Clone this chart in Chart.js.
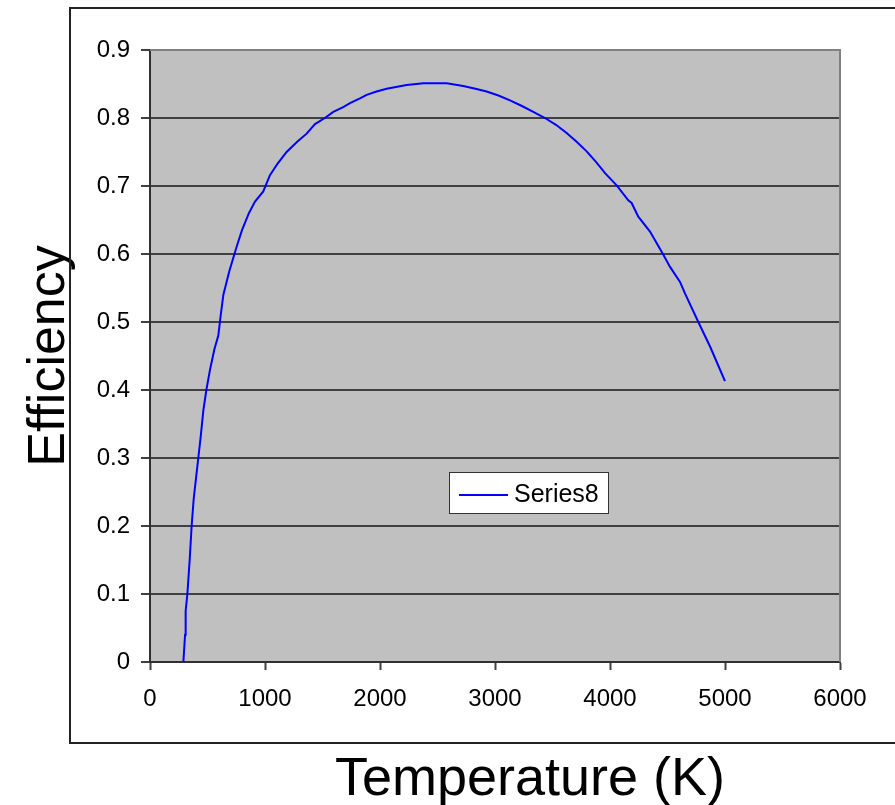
<!DOCTYPE html>
<html lang="en">
<head>
    <meta charset="UTF-8">
    <title>Efficiency vs Temperature</title>
    <script src="https://cdn.jsdelivr.net/npm/chart.js"></script>
    <style>
        html, body {
            margin: 0;
            padding: 0;
            background: #ffffff;
        }
        #wrap {
            width: 895px;
            height: 805px;
        }
    </style>
</head>
<body>

    <div id="wrap"><canvas id="effChart"></canvas></div>

    <script>
        // Temperature (K) and efficiency
        const temperatures = [
            290, 305, 310, 325, 345, 362, 380, 400, 420, 440,
            464, 490, 522, 560, 594, 615, 638, 690, 754, 800,
            860, 913, 985, 1043, 1110, 1188, 1280, 1362, 1435, 1520,
            1594, 1680, 1739, 1826, 1884, 1970, 2058, 2150, 2232, 2377,
            2580, 2724, 2830, 2927, 3030, 3130, 3230, 3333, 3435, 3530,
            3623, 3710, 3797, 3880, 3957, 4058, 4159, 4188, 4246, 4348,
            4464, 4522, 4609, 4652, 4768, 4870, 5000
        ];
        const efficiency = [
            0, 0.04, 0.075, 0.10, 0.15, 0.20, 0.24, 0.27, 0.30, 0.33,
            0.37, 0.40, 0.43, 0.46, 0.48, 0.51, 0.54, 0.575, 0.611, 0.635,
            0.66, 0.677, 0.692, 0.716, 0.733, 0.75, 0.765, 0.777, 0.791, 0.80,
            0.809, 0.816, 0.822, 0.829, 0.834, 0.839, 0.843, 0.846, 0.8485, 0.851,
            0.851, 0.847, 0.843, 0.839, 0.833, 0.826, 0.818, 0.809, 0.80, 0.79,
            0.778, 0.765, 0.751, 0.735, 0.719, 0.701, 0.679, 0.675, 0.655, 0.633,
            0.599, 0.581, 0.559, 0.542, 0.50, 0.464, 0.413
        ];
        const seriesName = "Series8";
        const xTitle = "Temperature (K)";
        const yTitle = "Efficiency";

        const FONT = "Arial, 'Liberation Sans', sans-serif";

        // grey plot area, outer frame, x title and the little legend box
        const excelLook = {
            id: "excelLook",
            beforeDraw(chart) {
                const { ctx, chartArea: a } = chart;
                ctx.save();
                ctx.fillStyle = "#C0C0C0";
                ctx.fillRect(a.left, a.top, a.right - a.left, a.bottom - a.top);
                ctx.restore();
            },
            afterDraw(chart) {
                const { ctx, chartArea: a } = chart;
                ctx.save();

                // plot area border (top / right)
                ctx.strokeStyle = "#808080";
                ctx.lineWidth = 2;
                ctx.beginPath();
                ctx.moveTo(a.left, a.top);
                ctx.lineTo(a.right, a.top);
                ctx.lineTo(a.right, a.bottom);
                ctx.stroke();

                // outer chart frame
                ctx.strokeStyle = "#222222";
                ctx.lineWidth = 2;
                ctx.strokeRect(70, 8, 900, 735);

                // x axis title
                ctx.fillStyle = "#000000";
                ctx.font = "54px " + FONT;
                ctx.textAlign = "center";
                ctx.textBaseline = "alphabetic";
                ctx.fillText(xTitle, 530, 795);

                // legend
                const ds = chart.data.datasets[0];
                ctx.fillStyle = "#ffffff";
                ctx.fillRect(449, 472, 159, 41);
                ctx.strokeStyle = "#333333";
                ctx.lineWidth = 1;
                ctx.strokeRect(449.5, 472.5, 159, 41);
                ctx.strokeStyle = ds.borderColor;
                ctx.lineWidth = 2;
                ctx.beginPath();
                ctx.moveTo(459, 495);
                ctx.lineTo(508, 495);
                ctx.stroke();
                ctx.fillStyle = "#000000";
                ctx.font = "25px " + FONT;
                ctx.textAlign = "left";
                ctx.fillText(ds.label, 514, 502);

                ctx.restore();
            }
        };

        const ctx = document.getElementById("effChart").getContext("2d");
        new Chart(ctx, {
            type: "line",
            data: {
                datasets: [{
                    label: seriesName,
                    data: temperatures.map((t, i) => ({ x: t, y: efficiency[i] })),
                    borderColor: "#0000FF",
                    borderWidth: 2,
                    pointRadius: 0,
                    tension: 0,
                    fill: false
                }]
            },
            options: {
                responsive: true,
                maintainAspectRatio: false,
                animation: false,
                layout: {
                    padding: { top: 50, right: 55, bottom: 0, left: 0 }
                },
                plugins: {
                    legend: { display: false },
                    tooltip: { enabled: false }
                },
                scales: {
                    x: {
                        type: "linear",
                        min: 0,
                        max: 6000,
                        ticks: {
                            stepSize: 1000,
                            color: "#000000",
                            padding: 15,
                            maxRotation: 0,
                            font: { family: FONT, size: 24 },
                            callback: v => String(v)
                        },
                        grid: {
                            drawOnChartArea: false,
                            drawTicks: true,
                            tickLength: 8,
                            tickColor: "#404040",
                            tickWidth: 2
                        },
                        border: { color: "#303030", width: 2 },
                        afterFit: scale => { scale.height = 143; }
                    },
                    y: {
                        min: 0,
                        max: 0.9,
                        ticks: {
                            stepSize: 0.1,
                            color: "#000000",
                            padding: 11,
                            font: { family: FONT, size: 24 }
                        },
                        grid: {
                            color: ctx => (ctx.tick && ctx.tick.value >= 0.9 ? "#808080" : "#404040"),
                            lineWidth: 2,
                            tickLength: 9,
                            tickColor: "#404040",
                            tickWidth: 2
                        },
                        border: { color: "#303030", width: 2 },
                        title: {
                            display: true,
                            text: yTitle,
                            color: "#000000",
                            font: { family: FONT, size: 52 },
                            padding: { top: 18, bottom: 0 }
                        },
                        afterFit: scale => { scale.width = 150; }
                    }
                }
            },
            plugins: [excelLook]
        });
    </script>

</body>
</html>
